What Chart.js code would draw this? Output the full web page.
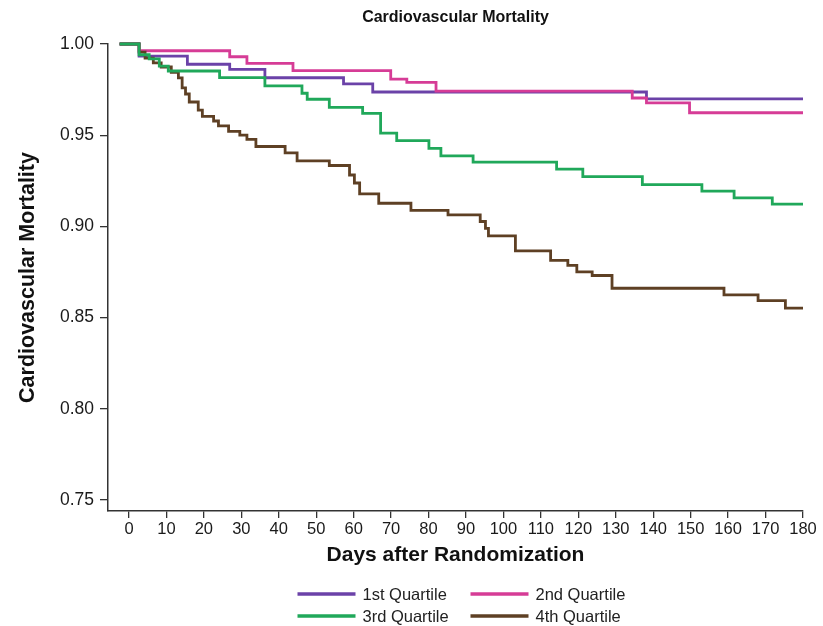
<!DOCTYPE html>
<html>
<head>
<meta charset="utf-8">
<script src="https://cdn.jsdelivr.net/npm/chart.js@4.4.1/dist/chart.umd.min.js"></script>
<style>
  html, body { margin: 0; padding: 0; background: #fff; }
  #wrap { width: 823px; height: 626px; }
</style>
</head>
<body>
<div id="wrap"><canvas id="kmChart" width="823" height="626"></canvas></div>
<script>
// Kaplan-Meier steps (day of drop, survival after it)
const q1Days = [-2.5, 2.7, 15.6, 26.9, 36.3, 57.3, 65.1, 138.2, 180];
const q1Surv = [1.000, 0.9934, 0.9889, 0.9861, 0.9815, 0.9781, 0.9737, 0.9699, 0.9699];

const q2Days = [-2.5, 2.7, 26.9, 31.5, 43.8, 69.9, 74.2, 82.0, 134.4, 138.2, 149.7, 180];
const q2Surv = [1.000, 0.9963, 0.9930, 0.9894, 0.9854, 0.9807, 0.9790, 0.9742, 0.9704, 0.9677, 0.9623, 0.9623];

const q3Days = [-2.5, 2.7, 5.4, 8.1, 10.5, 24.2, 36.3, 46.2, 47.6, 53.5, 62.4, 67.2, 71.5, 80.1, 83.3,
                91.9, 114.2, 121.2, 137.1, 153.0, 161.6, 171.8, 180];
const q3Surv = [1.000, 0.9941, 0.9919, 0.9879, 0.9852, 0.9816, 0.9770, 0.9730, 0.9697, 0.9653, 0.9620, 0.9511, 0.9470, 0.9428, 0.9387,
                0.9352, 0.9314, 0.9273, 0.9229, 0.9194, 0.9156, 0.9122, 0.9122];

const q4Days = [-2.5, 2.7, 4.3, 6.5, 8.6, 11.3, 13.2, 14.2, 15.1, 16.1, 18.5, 19.6, 22.6, 23.9, 26.6, 29.6, 31.5, 33.9,
                41.7, 44.9, 53.5, 58.9, 60.2, 61.6, 66.7, 75.3, 85.2, 93.8, 95.2, 96.0, 103.2, 112.6, 117.2, 119.6, 123.7,
                129.0, 158.9, 168.0, 175.3, 180];
const q4Surv = [1.000, 0.9956, 0.9923, 0.9896, 0.9874, 0.9844, 0.9814, 0.9759, 0.9726, 0.9682, 0.9638, 0.9603, 0.9578, 0.9551, 0.9521, 0.9501, 0.9477, 0.9438,
                0.9403, 0.9359, 0.9334, 0.9282, 0.9238, 0.9178, 0.9127, 0.9088, 0.9063, 0.9027, 0.8989, 0.8948, 0.8866, 0.8814, 0.8786, 0.8751, 0.8731,
                0.8661, 0.8625, 0.8593, 0.8552, 0.8552];

const quartileNames = ['1st Quartile', '2nd Quartile', '3rd Quartile', '4th Quartile'];
const quartileColors = ['#6b42a8', '#d63c96', '#20a85a', '#5e4024'];
const dayTicks = [0, 10, 20, 30, 40, 50, 60, 70, 80, 90, 100, 110, 120, 130, 140, 150, 160, 170, 180];
const survTicks = [0.75, 0.80, 0.85, 0.90, 0.95, 1.00];

const FONT = '"Liberation Sans", Arial, Helvetica, sans-serif';
const allDays = [q1Days, q2Days, q3Days, q4Days];
const allSurv = [q1Surv, q2Surv, q3Surv, q4Surv];
// green on top, then brown, pink, purple underneath
const drawOrder = [4, 3, 1, 2];

const datasets = quartileNames.map(function (name, i) {
    return {
        label: name,
        data: allDays[i].map((d, j) => ({ x: d, y: allSurv[i][j] })),
        borderColor: quartileColors[i],
        borderWidth: 2.8,
        stepped: 'before',
        pointRadius: 0,
        fill: false,
        clip: 5,
        order: drawOrder[i]
    };
});

// legend in two rows of two, under the x axis title
const quartileLegend = {
    id: 'quartileLegend',
    afterDraw(chart) {
        const { ctx, chartArea } = chart;
        const mid = (chartArea.left + chartArea.right) / 2;
        const cols = [mid - 158, mid + 15];
        const rows = [chartArea.bottom + 83, chartArea.bottom + 105];
        ctx.save();
        ctx.font = '16.5px ' + FONT;
        ctx.textBaseline = 'middle';
        chart.data.datasets.forEach(function (ds, i) {
            const x = cols[i % 2];
            const y = rows[Math.floor(i / 2)];
            ctx.strokeStyle = ds.borderColor;
            ctx.lineWidth = 3.5;
            ctx.beginPath();
            ctx.moveTo(x, y);
            ctx.lineTo(x + 58, y);
            ctx.stroke();
            ctx.fillStyle = '#222';
            ctx.fillText(ds.label, x + 65, y + 1);
        });
        ctx.restore();
    }
};

new Chart(document.getElementById('kmChart'), {
    type: 'line',
    data: { datasets: datasets },
    plugins: [quartileLegend],
    options: {
        responsive: false,
        animation: false,
        layout: { padding: { left: 0, right: 20, top: 0, bottom: 55 } },
        plugins: {
            legend: { display: false },
            tooltip: { enabled: false },
            title: {
                display: true,
                text: 'Cardiovascular Mortality',
                fullSize: false,
                color: '#111',
                font: { family: FONT, size: 16, weight: 'bold' },
                padding: { top: 8, bottom: 16.8 }
            }
        },
        scales: {
            x: {
                type: 'linear',
                min: -5.6,
                max: 180,
                afterFit(scale) { scale.height = 60; },
                afterBuildTicks(scale) { scale.ticks = dayTicks.map(v => ({ value: v })); },
                grid: { drawOnChartArea: false, drawTicks: true, tickLength: 7, color: '#333', lineWidth: 1.3 },
                border: { display: true, color: '#333', width: 1.5 },
                ticks: { color: '#1a1a1a', padding: 2, maxRotation: 0, autoSkip: false, font: { family: FONT, size: 16.5 } },
                title: {
                    display: true,
                    text: 'Days after Randomization',
                    color: '#111',
                    font: { family: FONT, size: 21, weight: 'bold' },
                    padding: { top: 0, bottom: 3 }
                }
            },
            y: {
                type: 'linear',
                min: 0.744,
                max: 1.0,
                afterFit(scale) { scale.width = 108; },
                afterBuildTicks(scale) { scale.ticks = survTicks.map(v => ({ value: v })); },
                grid: { drawOnChartArea: false, drawTicks: true, tickLength: 8, color: '#333', lineWidth: 1.3 },
                border: { display: true, color: '#333', width: 1.5 },
                ticks: {
                    color: '#1a1a1a',
                    padding: 6,
                    font: { family: FONT, size: 17.5 },
                    callback: v => Number(v).toFixed(2)
                },
                title: {
                    display: true,
                    text: 'Cardiovascular Mortality',
                    color: '#111',
                    font: { family: FONT, size: 21.5, weight: 'bold' },
                    padding: { top: 15, bottom: 0 }
                }
            }
        }
    }
});
</script>
</body>
</html>
